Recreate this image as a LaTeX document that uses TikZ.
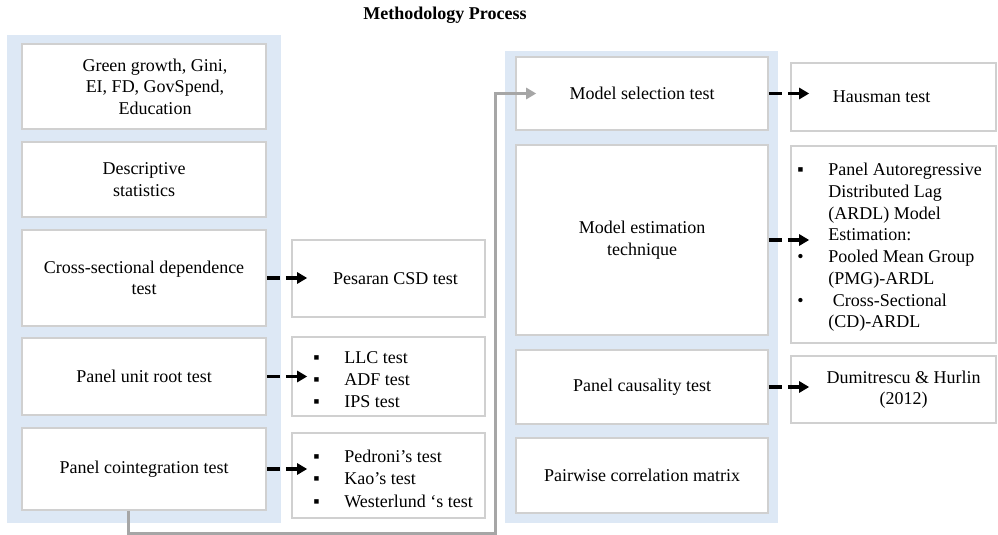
\documentclass[tikz,border=0pt]{standalone}
\usepackage{fontspec}
\setmainfont{Liberation Serif}
\usetikzlibrary{positioning,arrows.meta}

\definecolor{panelblue}{RGB}{221,232,245}
\definecolor{boxgray}{RGB}{208,208,208}
\definecolor{linkgray}{RGB}{166,166,166}

\begin{document}
\begin{tikzpicture}[x=1pt,y=-1pt,
    font=\fontsize{18}{21.5}\selectfont,
    box/.style={draw=boxgray,line width=1.6pt,fill=white,inner sep=0pt,align=center},
    list/.style={anchor=west,align=left,inner sep=0pt},
    dasharrow/.style={line width=3.2pt,dash pattern=on 13pt off 6pt,-{Triangle[length=10pt,width=11pt]}},
    link/.style={linkgray,line width=3pt,-{Triangle[length=10pt,width=11pt]}}]

\useasboundingbox (0,0) rectangle (998,535);

\node[font=\fontsize{18}{21.5}\selectfont\bfseries] (title) at (445,15) {Methodology Process};

\fill[panelblue] (7,35) rectangle (281,523);
\fill[panelblue] (505,51) rectangle (778,523);

% left column
\node[box,minimum width=244pt,minimum height=85pt] (l1) at (144,86.5) {\hspace*{22pt}Green growth, Gini,\\\hspace*{22pt}EI, FD, GovSpend,\\\hspace*{22pt}Education};
\node[box,minimum width=244pt,minimum height=75pt] (l2) at (144,179.5) {Descriptive\\statistics};
\node[box,minimum width=244pt,minimum height=96pt] (l3) at (144,278) {Cross-sectional dependence\\test};
\node[box,minimum width=244pt,minimum height=77pt] (l4) at (144,376.5) {Panel unit root test};
\node[box,minimum width=244pt,minimum height=82pt] (l5) at (144,469) {Panel cointegration test};

\node[box,minimum width=193pt,minimum height=77pt] (m1) at (388.5,278.5) {\hspace*{14pt}Pesaran CSD test};
\node[box,minimum width=193pt,minimum height=79pt] (m2) at (388.5,376.5) {};
\node[box,minimum width=193pt,minimum height=85pt] (m3) at (388.5,475.5) {};
\node[list,font=\fontsize{18}{22}\selectfont] (m2list) at ([xshift=22pt,yshift=-3pt]m2.west)
    {\makebox[31pt][l]{▪}LLC test\\\makebox[31pt][l]{▪}ADF test\\\makebox[31pt][l]{▪}IPS test};
\node[list,font=\fontsize{18}{22.5}\selectfont] (m3list) at ([xshift=22pt,yshift=-3pt]m3.west)
    {\makebox[31pt][l]{▪}Pedroni’s test\\\makebox[31pt][l]{▪}Kao’s test\\\makebox[31pt][l]{▪}Westerlund ‘s test};

% right column
\node[box,minimum width=252pt,minimum height=73pt] (r1) at (642,93.5) {Model selection test};
\node[box,minimum width=252pt,minimum height=190pt] (r2) at (642,240) {Model estimation\\technique};
\node[box,minimum width=252pt,minimum height=74pt] (r3) at (642,387) {Panel causality test};
\node[box,minimum width=252pt,minimum height=75pt] (r4) at (642,475.5) {Pairwise correlation matrix};

\node[box,minimum width=205pt,minimum height=68pt] (h1) at (893.5,97) {Hausman test\hspace*{24pt}};
\node[box,minimum width=205pt,minimum height=197pt] (e1) at (893.5,244.5) {};
\node[box,minimum width=205pt,minimum height=67pt] (d1) at (893.5,389.5) {\hspace*{20pt}Dumitrescu \& Hurlin\\\hspace*{20pt}(2012)};
\node[list,font=\fontsize{18}{21.7}\selectfont] (e1list) at ([xshift=7pt,yshift=-3pt]e1.west)
    {\makebox[31pt][l]{▪}Panel Autoregressive\\\hspace*{31pt}Distributed Lag\\\hspace*{31pt}(ARDL) Model\\\hspace*{31pt}Estimation:\\
     \makebox[31pt][l]{•}Pooled Mean Group\\\hspace*{31pt}(PMG)-ARDL\\\makebox[31pt][l]{•}\ Cross-Sectional\\\hspace*{31pt}(CD)-ARDL};

\foreach \from/\to/\s in {l3/m1/16, l4/m2/16, l5/m3/16, r1/h1/19, r2/e1/19, r3/d1/19} {
    \draw[dasharrow] (\from.east) -- ([xshift=\s pt]\from.east -| \to.west);
}

\coordinate (low) at (495,533);
\draw[link] ([xshift=-16pt]l5.south) |- (low) |- ([xshift=21pt]r1.west);

\end{tikzpicture}
\end{document}
